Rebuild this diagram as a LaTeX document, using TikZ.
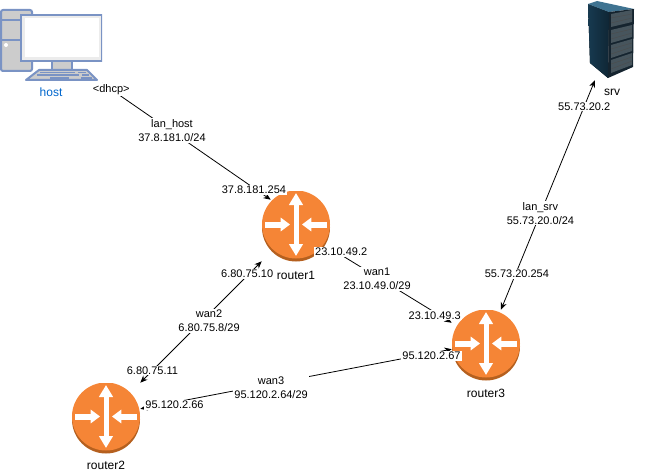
\documentclass[tikz,border=0pt]{standalone}
\usepackage{fontspec}
\setmainfont{Liberation Sans}
\usepackage{xcolor}
\usepackage{tikz}
\usetikzlibrary{arrows.meta,positioning}

\definecolor{routerorange}{HTML}{F58536}
\definecolor{routerdark}{HTML}{B5601F}
\definecolor{hostline}{HTML}{7A93C4}
\definecolor{hostblue}{HTML}{0066CC}
\definecolor{srvleft}{HTML}{173A50}
\definecolor{srvmid}{HTML}{2F6E92}
\definecolor{srvright}{HTML}{0F2635}
\definecolor{srvtop}{HTML}{3F7391}
\definecolor{srvfront}{HTML}{15242F}
\definecolor{srvrack}{HTML}{47555D}

\newcommand{\routerglyph}{%
  \begin{scope}[shift={(path picture bounding box.center)},x=0.75pt,y=-0.75pt]
    \fill[routerdark] (0,1.5) circle[radius=25.5pt];
    \fill[routerorange] (0,-1.5) circle[radius=25.5pt];
    \draw[routerarrow, {Triangle[length=9pt,width=10pt]}-{Triangle[length=9pt,width=10pt]}] (0,-33) -- (0,30);
    \draw[routerarrow, line width=4.5pt, -{Triangle[length=7pt,width=10pt]}] (-31,-1.5) -- (-6,-1.5);
    \draw[routerarrow, line width=4.5pt, -{Triangle[length=7pt,width=10pt]}] (31,-1.5) -- (6,-1.5);
  \end{scope}}

\newcommand{\hostglyph}{%
  \begin{scope}[shift={(path picture bounding box.center)},x=0.75pt,y=-0.75pt,hostline,line width=1.5pt]
    \draw[fill=gray!40, rounded corners=1.5pt] (-50,-36) rectangle (-19,25);
    \draw (-50,-26) -- (-19,-26);
    \draw (-50,-6) -- (-19,-6);
    \fill[white] (-45,-1) circle[radius=1.5pt];
    \draw[fill=gray!40] (1,14) rectangle (21,24);
    \draw[fill=gray!15] (-30,-31) rectangle (51,15);
    \fill[white] (-26,-28) rectangle (48,11);
    \draw[fill=gray!40, line join=round] (-12,24) -- (36,24) -- (46,34) -- (-25,34) -- cycle;
    \draw[line width=1.2pt] (-11,26.5) -- (24,26.5) (27,26.5) -- (35,26.5);
    \draw[line width=1.2pt] (-14,29) -- (28,29) (31,29) -- (38,29);
    \draw[line width=1.2pt] (-1,32) -- (18,32) (30,32) -- (41,32);
  \end{scope}}

\newcommand{\srvglyph}{%
  \begin{scope}[shift={(path picture bounding box.center)},x=0.75pt,y=-0.75pt]
    \fill[left color=srvleft, middle color=srvmid, right color=srvright] (-24,-36) -- (-3,-28) -- (-4,38) -- (-22,23) -- cycle;
    \fill[srvtop] (-24,-36) -- (-15,-39) -- (22,-31) -- (-3,-28) -- cycle;
    \fill[srvfront] (-3,-28) -- (22,-31) -- (21,27) -- (-4,38) -- cycle;
    \foreach \ya/\yb in {-26/-30,-10/-15,5/-1,20/13} {
      \fill[srvrack] (-1,\ya) -- (20,\yb) -- (20,\yb+12) -- (-1,\ya+13) -- cycle;
      \draw[black!70, line width=0.3pt] (-1,\ya+4) -- (20,\yb+4) (-1,\ya+9) -- (20,\yb+8);
    }
  \end{scope}}

\begin{document}
\begin{tikzpicture}[
  on grid,
  font=\fontsize{8.25pt}{10.5pt}\selectfont,
  routerbox/.style={minimum width=51pt, minimum height=52.5pt, inner sep=0pt, path picture={\routerglyph}},
  hostbox/.style={minimum width=76.5pt, minimum height=55.5pt, inner sep=0pt, path picture={\hostglyph}},
  srvbox/.style={minimum width=39pt, minimum height=60pt, inner sep=0pt, path picture={\srvglyph}},
  routerarrow/.style={white, line width=3.75pt},
  caption/.style={inner sep=1pt, font=\fontsize{9pt}{11pt}\selectfont},
  addr/.style={fill=white, inner sep=0.75pt, align=center},
  link/.style={black, line width=0.6pt, -{Stealth[length=5.5pt,width=4.5pt]}},
  biglink/.style={link, {Stealth[length=5.5pt,width=4.5pt]}-{Stealth[length=5.5pt,width=4.5pt]}}
]
\useasboundingbox (0,0) rectangle (489pt,-355.5pt);

\node[hostbox] (host) at (38.25pt,-34.5pt) {};
\node[routerbox, below right=135pt and 183.75pt of host] (r1) {};
\node[routerbox, below left=144pt and 142.5pt of r1] (r2) {};
\node[routerbox, below right=89.25pt and 142.5pt of r1] (r3) {};
\node[srvbox, above right=228.75pt and 94.5pt of r3] (srv) {};

\node[caption, below=34.5pt of host, text=hostblue] (hostcap) {host};
\node[caption, below=37pt of r1] (r1cap) {router1};
\node[caption, below=35.25pt of r2] (r2cap) {router2};
\node[caption, below=36pt of r3] (r3cap) {router3};
\node[caption, below=39pt of srv] (srvcap) {srv};

\draw[link] (host.south east) -- ([xshift=6.75pt,yshift=-6.75pt]r1.north west)
  node[addr, pos=0.053] (dhcp) {<dhcp>}
  node[addr, pos=0.414, yshift=0.75pt] (lanhost) {lan\_host\\37.8.181.0/24}
  node[addr, pos=0.9, yshift=-1.5pt] (hostgw) {37.8.181.254};
\draw[biglink] (r1.-33) -- (r3.147)
  node[addr, pos=0.09, yshift=2.5pt] (r1wan1) {23.10.49.2}
  node[addr, pos=0.385, yshift=-1.5pt] (wan1) {wan1\\23.10.49.0/29}
  node[addr, pos=0.86, yshift=-2.25pt] (r3wan1) {23.10.49.3};
\draw[biglink] (r1.south west) -- (r2.north east)
  node[addr, pos=0.12, yshift=1.5pt] (r1wan2) {6.80.75.10}
  node[addr, pos=0.483, xshift=4.5pt, yshift=-0.75pt] (wan2) {wan2\\6.80.75.8/29}
  node[addr, pos=0.9] (r2wan2) {6.80.75.11};
\draw[biglink] (r2.15) -- (r3.187)
  node[addr, pos=0.11, yshift=-2pt] (r2wan3) {95.120.2.66}
  node[addr, pos=0.42, yshift=-2.75pt] (wan3) {wan3\\95.120.2.64/29}
  node[addr, pos=0.935, yshift=-2.25pt] (r3wan3) {95.120.2.67};
\draw[biglink] (r3.67) -- (srv.247)
  node[addr, pos=0.155, xshift=1pt] (r3lan) {55.73.20.254}
  node[addr, pos=0.42] (lansrv) {lan\_srv\\55.73.20.0/24}
  node[addr, pos=0.886] (srvlan) {55.73.20.2};

\end{tikzpicture}
\end{document}
